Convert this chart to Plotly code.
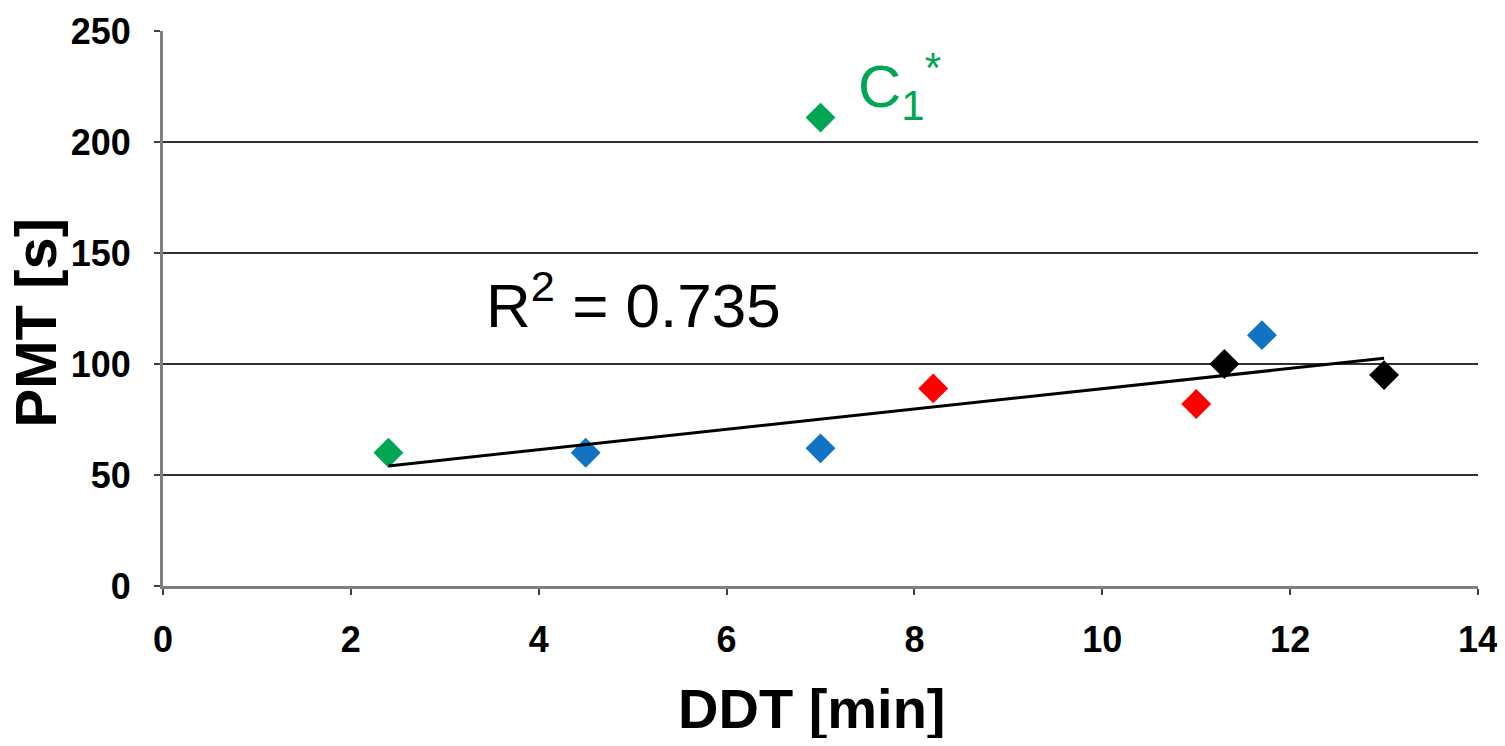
import numpy as np
import plotly.graph_objects as go

# Data
green_x = [2.4, 7.0]
green_y = [60, 211]
blue_x = [4.5, 7.0, 11.7]
blue_y = [60, 62, 113]
red_x = [8.2, 11.0]
red_y = [89, 82]
black_x = [11.3, 13.0]
black_y = [100, 95]

# Trend fitted on all points except the outlier C1*
fit_x = [2.4, 4.5, 7.0, 8.2, 11.0, 11.3, 11.7, 13.0]
fit_y = [60, 60, 62, 89, 82, 100, 113, 95]

x_ticks = [0, 2, 4, 6, 8, 10, 12, 14]
y_ticks = [0, 50, 100, 150, 200, 250]

slope, intercept = np.polyfit(fit_x, fit_y, 1)
trend_x = [min(fit_x), max(fit_x)]
trend_y = [slope * v + intercept for v in trend_x]

FONT = "Liberation Sans, Arial, sans-serif"
MS = 23

fig = go.Figure()
for xs, ys, col in [(green_x, green_y, "#00A651"), (blue_x, blue_y, "#1273C4"),
                    (red_x, red_y, "#FF0000"), (black_x, black_y, "#000000")]:
    fig.add_trace(go.Scatter(x=xs, y=ys, mode="markers",
                             marker=dict(symbol="diamond", size=MS, color=col,
                                         line=dict(width=0)),
                             showlegend=False))
fig.add_trace(go.Scatter(x=trend_x, y=trend_y, mode="lines",
                         line=dict(color="#000000", width=3), showlegend=False))

fig.update_layout(
    width=1497, height=730,
    margin=dict(l=155, r=27, t=23, b=152),
    paper_bgcolor="white", plot_bgcolor="white",
    font=dict(family=FONT, color="black"),
    xaxis=dict(range=[0, 14], tickvals=x_ticks, ticktext=[str(v) for v in x_ticks],
               showgrid=False, zeroline=False, automargin=False,
               showline=True, linecolor="#7f7f7f", linewidth=3,
               ticks="outside", ticklen=6, tickwidth=2, tickcolor="#404040",
               tickfont=dict(family=FONT, size=36, weight="bold", color="black"),
               ticklabelstandoff=14),
    yaxis=dict(range=[0, 250], tickvals=y_ticks, ticktext=[str(v) for v in y_ticks],
               showgrid=True, gridcolor="#303030", gridwidth=2, zeroline=False,
               automargin=False,
               showline=True, linecolor="#7f7f7f", linewidth=3,
               ticks="outside", ticklen=6, tickwidth=2, tickcolor="#404040",
               tickfont=dict(family=FONT, size=36, weight="bold", color="black"),
               ticklabelstandoff=16),
    annotations=[
        dict(text="DDT [min]", xref="paper", yref="paper", x=0.4935, y=-0.2216,
             xanchor="center", yanchor="middle", showarrow=False,
             font=dict(family=FONT, size=56, weight="bold", color="black")),
        dict(text="PMT [s]", xref="paper", yref="paper", x=-0.097, y=0.474,
             xanchor="center", yanchor="middle", showarrow=False, textangle=-90,
             font=dict(family=FONT, size=58, weight="bold", color="black")),
        dict(text="R<sup>2</sup> = 0.735", xref="x", yref="y", x=3.42, y=128.5,
             xanchor="left", yanchor="middle", showarrow=False,
             font=dict(family=FONT, size=62, color="black")),
        dict(text="C<sub>1</sub><sup>*</sup>", xref="x", yref="y", x=7.38, y=225,
             xanchor="left", yanchor="middle", showarrow=False,
             font=dict(family=FONT, size=60, color="#00A651")),
    ],
)

fig.write_html("out.html")
